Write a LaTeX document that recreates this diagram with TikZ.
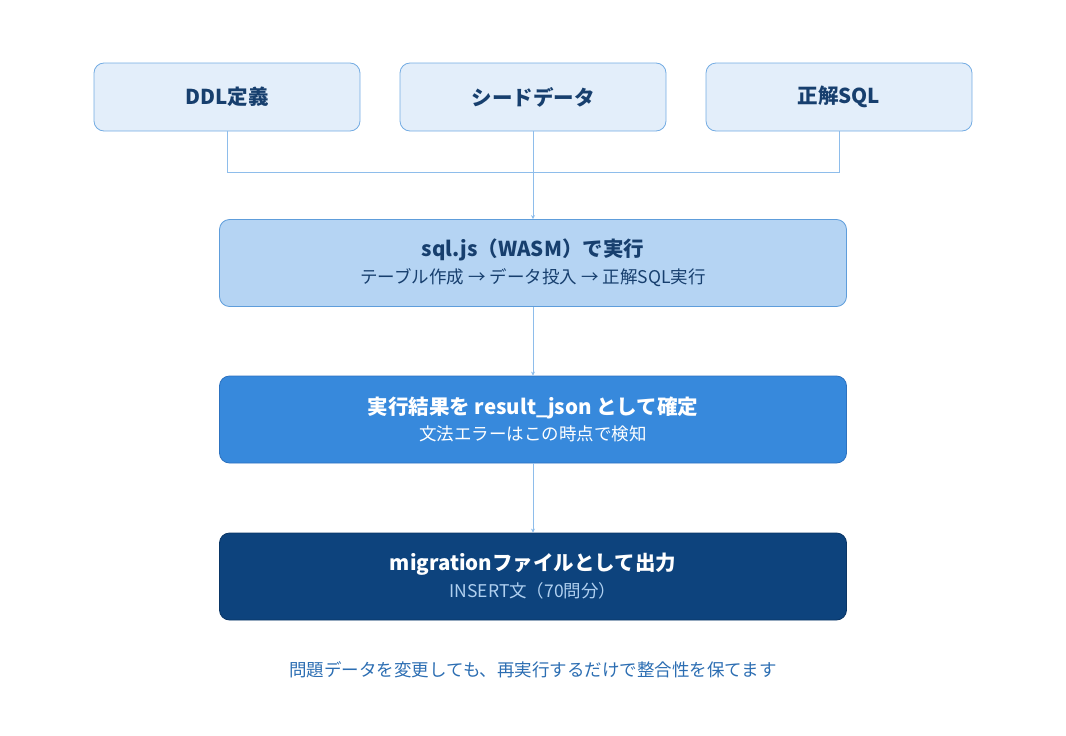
\documentclass[tikz,border=0pt]{standalone}
\usepackage{fontspec}
\setmainfont{Noto Sans CJK JP}
\usetikzlibrary{arrows.meta}
\definecolor{topfill}{HTML}{E3EEFA}
\definecolor{topline}{HTML}{74ACE3}
\definecolor{darktext}{HTML}{173F6E}
\definecolor{midfill}{HTML}{B5D4F3}
\definecolor{midline}{HTML}{5E9DDB}
\definecolor{bluefill}{HTML}{3789DC}
\definecolor{blueline}{HTML}{2C72C0}
\definecolor{navyfill}{HTML}{0D437D}
\definecolor{navyline}{HTML}{0A3666}
\definecolor{subnavy}{HTML}{B0D0F0}
\definecolor{conn}{HTML}{8EBDEB}
\definecolor{foot}{HTML}{2B6DB2}
\newcommand{\ttl}{\fontsize{20.5}{24}\selectfont\bfseries}
\newcommand{\sbt}{\fontsize{17.5}{21}\selectfont}
\tikzset{
  topbox/.style={draw=topline, fill=topfill, rounded corners=10pt, line width=0.8pt, minimum width=266pt, minimum height=68pt, inner sep=0pt, text=darktext, font=\ttl},
  flowbox/.style={rounded corners=10pt, line width=0.8pt, minimum width=627pt, minimum height=87pt, inner sep=0pt, align=center},
  conn/.style={draw=conn, line width=0.8pt},
  arr/.style={conn, -{Stealth[length=4pt,width=4pt]}},
}
\begin{document}
\begin{tikzpicture}[x=1pt,y=-1pt]
\useasboundingbox (0,0) rectangle (1066,736);
\node[topbox] (ddl) at (227,97) {DDL定義};
\node[topbox] (seed) at (533,97) {シードデータ};
\node[topbox] (ans) at (839,97) {正解SQL};
\node[flowbox, draw=midline, fill=midfill, text=darktext] (run) at (533,263)
  {{\ttl sql.js（WASM）で実行}\\[6pt]{\sbt テーブル作成 → データ投入 → 正解SQL実行}};
\node[flowbox, draw=blueline, fill=bluefill, text=white] (res) at (533,419.5)
  {{\ttl 実行結果を result\_json として確定}\\[6pt]{\sbt 文法エラーはこの時点で検知}};
\node[flowbox, draw=navyline, fill=navyfill, text=white] (mig) at (533,576.5)
  {{\ttl migrationファイルとして出力}\\[6pt]{\sbt\color{subnavy} INSERT文（70問分）}};
\node[text=foot, font=\sbt] (note) at (533,670) {問題データを変更しても、再実行するだけで整合性を保てます};
\coordinate (j1) at (227,172);
\coordinate (j3) at (839,172);
\draw[conn] (ddl.south) -- (j1) -- (j3) -- (ans.south);
\draw[arr] (seed.south) -- (run.north);
\draw[arr] (run.south) -- (res.north);
\draw[arr] (res.south) -- (mig.north);
\end{tikzpicture}
\end{document}
